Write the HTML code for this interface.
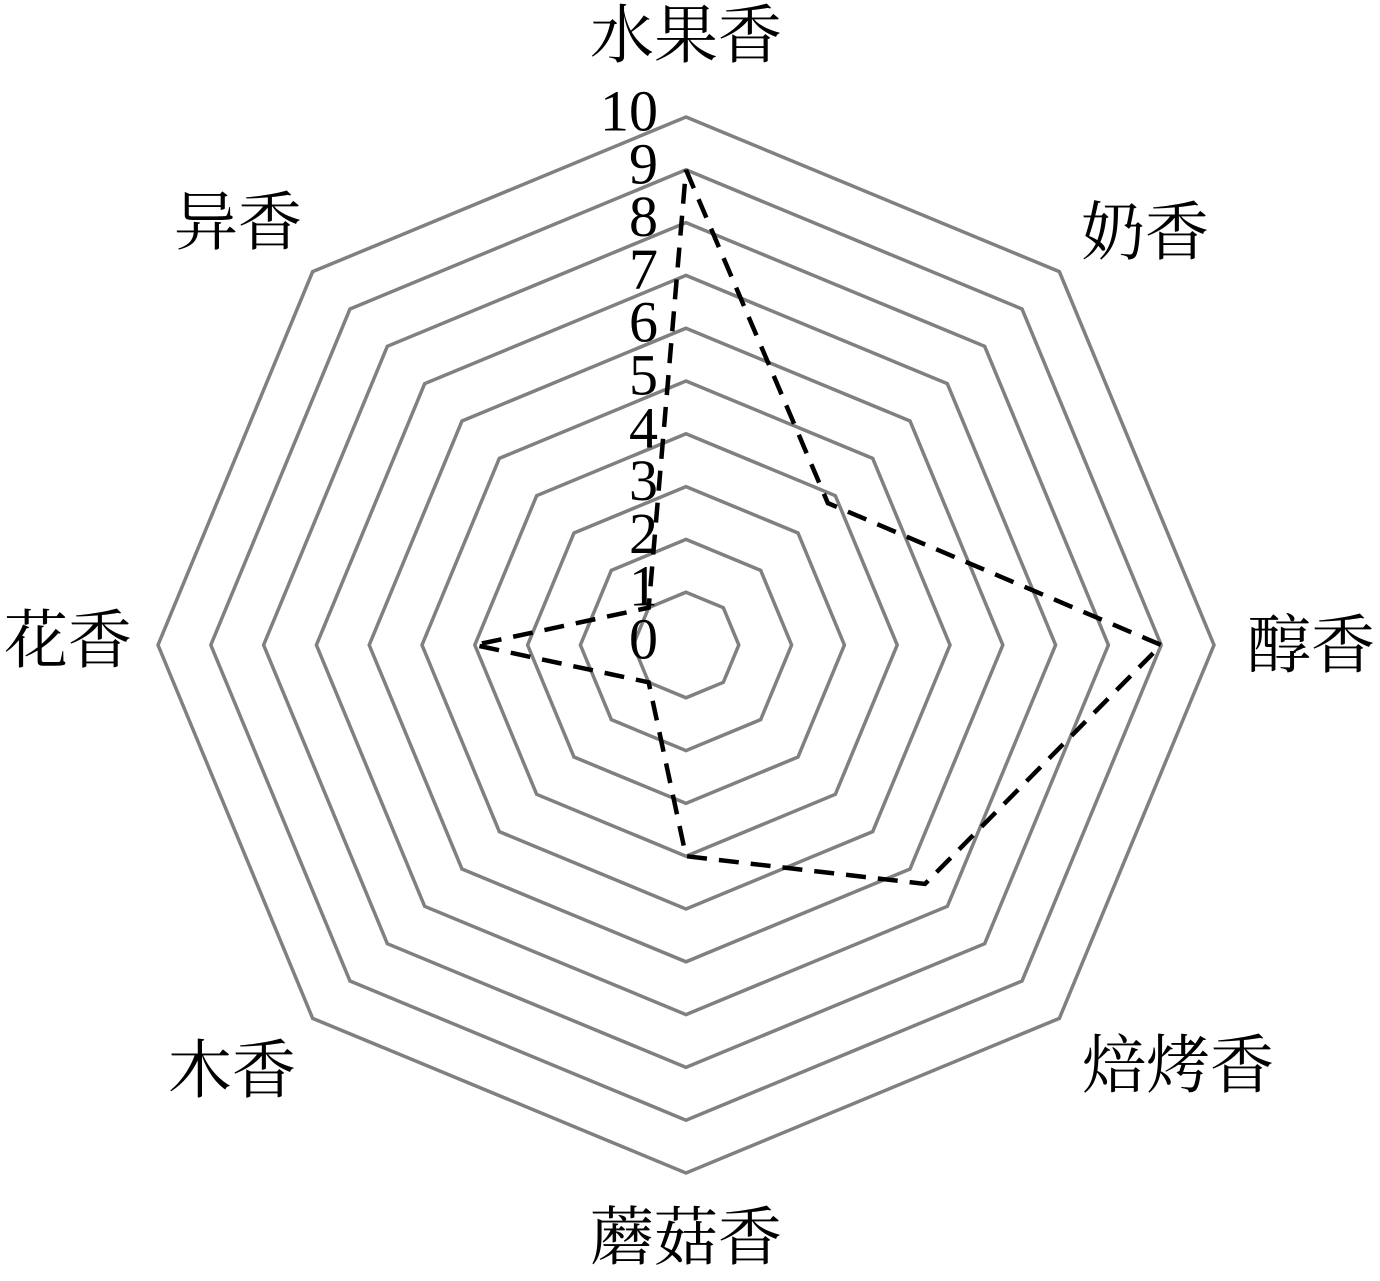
<!DOCTYPE html>
<html><head><meta charset="utf-8"><style>body{margin:0;background:#fff}</style></head><body>
<svg width="1380" height="1276" xmlns="http://www.w3.org/2000/svg">
<g id="grid" fill="none" stroke="#808080" stroke-width="3.5"></g>
<polyline id="data" fill="none" stroke="#000" stroke-width="4.5" stroke-dasharray="20 12"/>
<g font-family="Liberation Serif, Noto Serif CJK SC, serif" font-size="64" fill="#000" text-anchor="middle" dominant-baseline="central">
<text x="686" y="36">水果香</text>
<text x="1145" y="233">奶香</text>
<text x="1311" y="646">醇香</text>
<text x="1178" y="1066">焙烤香</text>
<text x="686" y="1238">蘑菇香</text>
<text x="232" y="1071">木香</text>
<text x="68" y="641">花香</text>
<text x="238" y="223">异香</text>
</g>
<g id="ticks" font-family="Liberation Serif, serif" font-size="58" fill="#000" text-anchor="end" dominant-baseline="central"></g>
</svg>
<script>
var cx=686,cy=645,u=52.8,ns="http://www.w3.org/2000/svg";
function pt(i,r){var a=-Math.PI/2+i*Math.PI/4;return [cx+r*Math.cos(a),cy+r*Math.sin(a)];}
var g=document.getElementById('grid');
for(var k=1;k<=10;k++){var p=[];for(var i=0;i<8;i++)p.push(pt(i,k*u).join(','));var e=document.createElementNS(ns,'polygon');e.setAttribute('points',p.join(' '));g.appendChild(e);}
var v=[9,3.8,9,6.4,4,1,4,1],p=[];for(var i=0;i<=8;i++)p.push(pt(i%8,v[i%8]*u).join(','));
document.getElementById('data').setAttribute('points',p.join(' '));
var t=document.getElementById('ticks');
for(var k=0;k<=10;k++){var e=document.createElementNS(ns,'text');e.setAttribute('x',658);e.setAttribute('y',cy-k*u-6);e.textContent=k;t.appendChild(e);}
</script>
</body></html>
